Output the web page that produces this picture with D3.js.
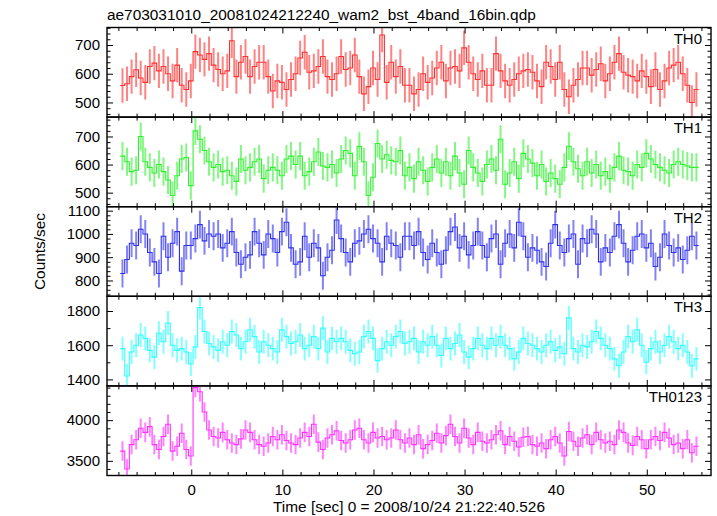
<!DOCTYPE html>
<html><head><meta charset="utf-8">
<script src="https://cdn.jsdelivr.net/npm/d3@7"></script>
<style>
body{margin:0;background:#fff}
svg{display:block}
text{font-family:"Liberation Sans",Arial,Helvetica,sans-serif;fill:#000}
</style>
</head><body>
<svg id="c" width="717" height="516"></svg>
<script>
// ---------------- data ----------------
const titleText = "ae703031010_20081024212240_wam2_bst_4band_16bin.qdp";
const xLabel = "Time [sec] 0 = 2008/10/24 21:22:40.526";
const yLabel = "Counts/sec";
const binStart = -7.8;   // left edge of first bin (s)
const binWidth = 0.5;    // s
const panelNames = ["TH0", "TH1", "TH2", "TH3", "TH0123"];
const panelColors = ["#ff3030", "#30f030", "#3030f0", "#30ffff", "#ff30ff"];
const panelErrors = [60, 50, 60, 70, 120];   // typical 1-sigma error of one bin (counts/sec)
const xTickMajor = [0, 10, 20, 30, 40, 50];

const th0 = [559,565,590,614,585,570,625,637,610,625,600,575,630,560,545,575,677,665,650,670,
630,615,600,610,715,590,640,660,590,625,640,640,590,540,575,570,545,580,600,655,
675,605,610,625,660,590,580,600,660,615,620,665,590,530,555,620,580,735,570,640,
590,625,560,560,530,545,600,570,585,620,640,575,620,625,610,690,640,600,580,610,
560,560,670,610,575,560,580,600,610,615,605,575,555,640,625,580,640,545,520,560,
580,620,620,595,615,635,575,600,640,670,605,595,590,575,610,590,555,615,545,575,
620,630,640,600,560,500,545];
const th1 = [630,610,575,580,700,610,590,570,600,575,545,490,560,620,625,525,720,690,650,610,
590,600,575,580,560,540,620,580,590,610,620,550,580,590,580,560,620,630,600,630,
560,575,610,645,595,590,600,570,620,650,640,560,665,610,490,555,675,620,635,615,
610,650,560,590,550,610,580,540,590,620,570,610,560,630,570,530,650,590,570,540,
600,620,580,690,530,570,610,550,640,620,605,560,600,540,570,550,530,590,665,610,
585,560,610,570,600,560,575,550,590,630,580,575,560,600,590,640,620,600,590,580,
570,600,610,600,595,590,590];
const th2 = [830,890,960,950,1020,1000,920,880,830,990,900,960,1010,840,950,950,980,1040,970,1000,
990,1000,940,960,1010,920,870,900,910,1010,960,910,1000,980,920,1010,1050,940,870,880,
990,900,960,940,820,900,930,1060,980,920,880,960,970,1000,1020,980,960,880,990,960,
950,900,990,990,950,1010,920,890,960,920,870,930,1010,1030,940,990,910,950,1010,950,
900,980,1000,870,960,1000,940,1050,990,900,940,930,880,860,960,1040,950,920,980,1000,
870,980,960,1020,1000,880,940,920,990,1040,960,880,930,990,1000,940,960,860,900,1000,
950,920,940,890,930,990,950];
const th3 = [1580,1420,1560,1600,1660,1640,1570,1530,1670,1620,1730,1600,1570,1580,1560,1490,1590,1820,1680,1610,
1590,1570,1620,1600,1680,1660,1580,1620,1690,1650,1560,1620,1600,1580,1560,1690,1650,1610,1620,1660,
1580,1600,1650,1580,1700,1560,1640,1620,1640,1620,1570,1550,1560,1650,1680,1640,1510,1580,1620,1600,
1650,1680,1610,1620,1640,1560,1620,1600,1650,1600,1540,1640,1580,1610,1660,1560,1530,1580,1640,1600,
1580,1640,1600,1650,1600,1580,1520,1560,1640,1610,1600,1580,1560,1600,1620,1570,1590,1550,1760,1580,
1560,1600,1590,1620,1680,1640,1600,1580,1520,1480,1560,1650,1620,1690,1600,1500,1580,1620,1560,1600,
1650,1620,1580,1600,1560,1480,1520];
const th0123 = [3620,3400,3700,3760,3900,3850,3920,3700,3640,3800,3950,3620,3680,3840,3640,3560,4400,4350,4100,3880,
3800,3780,3850,3760,3720,3700,3770,3880,3850,3760,3700,3680,3720,3800,3760,3820,3750,3720,3700,3780,
3850,3800,3950,3730,3640,3780,3820,3870,3750,3720,3760,3880,3900,3760,3720,3850,3780,3800,3760,3780,
3880,3760,3720,3780,3700,3820,3650,3700,3750,3840,3720,3810,3950,3800,3720,3900,3780,3700,3850,3740,
3720,3760,3820,3870,3700,3800,3740,3670,3790,3800,3700,3680,3720,3650,3760,3800,3720,3560,3860,3740,
3680,3780,3820,3700,3850,3760,3720,3740,3700,3880,3850,3720,3690,3800,3760,3650,3760,3800,3750,3850,
3780,3700,3720,3650,3760,3600,3680];
const seriesValues = [th0, th1, th2, th3, th0123];

const yDomains = [[449, 761], [450, 769], [732, 1117], [1362, 1886], [3320, 4421]];
const yTickMajor = [[500, 600, 700], [500, 600, 700], [800, 900, 1000, 1100], [1400, 1600, 1800], [3500, 4000]];
const yTickMinorStep = [20, 20, 20, 100, 100];

// ---------------- layout ----------------
const plotLeft = 107, plotRight = 711, plotTop = 27.5, panelH = 89.6;
const svg = d3.select("#c");

const x = d3.scaleLinear().domain([-9.25, 57.05]).range([plotLeft, plotRight]);
const xMinor = d3.range(-8, 57, 2).filter(v => v % 10 !== 0);

svg.append("text").attr("x", 107).attr("y", 19.5).attr("font-size", 15.4).text(titleText);

panelNames.forEach((name, p) => {
  const y0 = plotTop + p * panelH, y1 = y0 + panelH;
  const y = d3.scaleLinear().domain(yDomains[p]).range([y1, y0]);
  const g = svg.append("g");
  const vals = seriesValues[p];
  const color = panelColors[p];
  const e = panelErrors[p];
  const clip = "clip" + p;
  svg.append("clipPath").attr("id", clip).append("rect")
    .attr("x", plotLeft).attr("y", y0).attr("width", plotRight - plotLeft).attr("height", panelH);
  const dg = g.append("g").attr("clip-path", `url(#${clip})`);

  // error bars
  dg.selectAll("line.err").data(vals).join("line")
    .attr("x1", (v, i) => x(binStart + (i + 0.5) * binWidth))
    .attr("x2", (v, i) => x(binStart + (i + 0.5) * binWidth))
    .attr("y1", v => y(v - e)).attr("y2", v => y(v + e))
    .attr("stroke", color).attr("stroke-width", 2).attr("stroke-opacity", 0.6);

  // step line
  const pts = [];
  vals.forEach((v, i) => {
    pts.push([binStart + i * binWidth, v]);
    pts.push([binStart + (i + 1) * binWidth, v]);
  });
  dg.append("path").datum(pts)
    .attr("d", d3.line().x(d => x(d[0])).y(d => y(d[1])))
    .attr("fill", "none").attr("stroke", color).attr("stroke-width", 1.1);

  // axes (ticks inward)
  const gb = g.append("g").attr("transform", `translate(0,${y1})`);
  gb.call(d3.axisBottom(x).tickValues(xTickMajor).tickSize(-6).tickPadding(9)
    .tickFormat(p === 4 ? d3.format("d") : ""));
  const gbm = g.append("g").attr("transform", `translate(0,${y1})`);
  gbm.call(d3.axisBottom(x).tickValues(xMinor).tickSize(-3.5).tickFormat(""));
  const gt = g.append("g").attr("transform", `translate(0,${y0})`);
  gt.call(d3.axisTop(x).tickValues(xTickMajor).tickSize(-6).tickFormat(""));
  const gtm = g.append("g").attr("transform", `translate(0,${y0})`);
  gtm.call(d3.axisTop(x).tickValues(xMinor).tickSize(-3.5).tickFormat(""));

  const [dmin, dmax] = yDomains[p];
  const st = yTickMinorStep[p];
  const yMinor = d3.range(Math.ceil(dmin / st) * st, dmax, st).filter(v => !yTickMajor[p].includes(v));
  const gl = g.append("g").attr("transform", `translate(${plotLeft},0)`);
  gl.call(d3.axisLeft(y).tickValues(yTickMajor[p]).tickSize(-6).tickPadding(7).tickFormat(d3.format("d")));
  const glm = g.append("g").attr("transform", `translate(${plotLeft},0)`);
  glm.call(d3.axisLeft(y).tickValues(yMinor).tickSize(-3.5).tickFormat(""));
  const gr = g.append("g").attr("transform", `translate(${plotRight},0)`);
  gr.call(d3.axisRight(y).tickValues(yTickMajor[p]).tickSize(-6).tickFormat(""));
  const grm = g.append("g").attr("transform", `translate(${plotRight},0)`);
  grm.call(d3.axisRight(y).tickValues(yMinor).tickSize(-3.5).tickFormat(""));

  g.selectAll(".domain").remove();
  g.selectAll(".tick line").attr("stroke", "#000").attr("stroke-width", 1);
  g.selectAll(".tick text").attr("font-size", 15).attr("font-family", '"Liberation Sans",Arial,sans-serif').attr("fill", "#000");

  g.append("rect").attr("x", plotLeft).attr("y", y0).attr("width", plotRight - plotLeft).attr("height", panelH)
    .attr("fill", "none").attr("stroke", "#000").attr("stroke-width", 1.4);

  g.append("text").attr("x", plotRight - 9).attr("y", y0 + 16).attr("text-anchor", "end")
    .attr("font-size", 15).text(name);
});

svg.append("text").attr("x", (plotLeft + plotRight) / 2).attr("y", 512).attr("text-anchor", "middle")
  .attr("font-size", 15.4).text(xLabel);
svg.append("text").attr("transform", `translate(45,${plotTop + 2.5 * panelH}) rotate(-90)`)
  .attr("text-anchor", "middle").attr("font-size", 15.4).text(yLabel);
</script>
</body></html>
